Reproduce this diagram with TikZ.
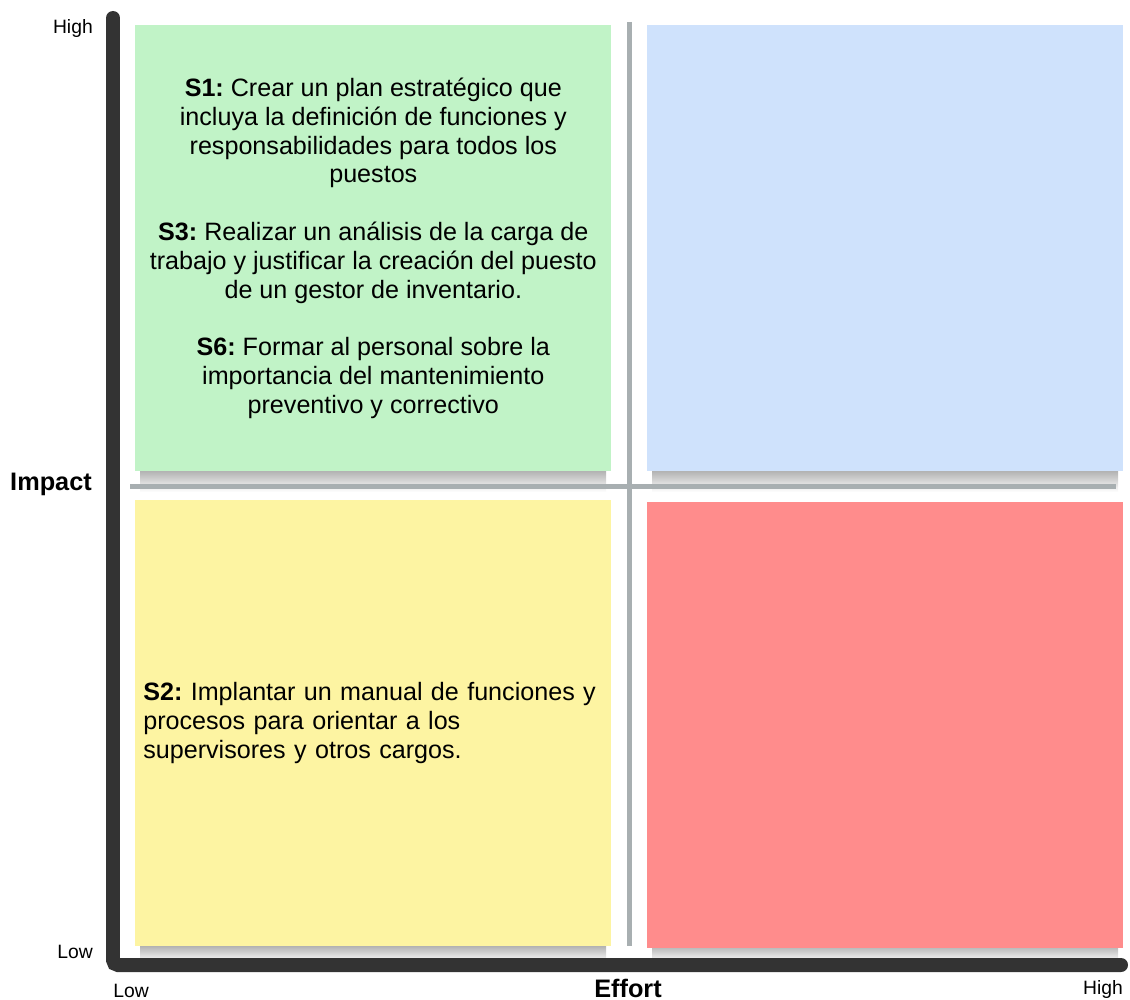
\documentclass[tikz,border=0pt]{standalone}
\usepackage{fontspec}
\setmainfont{Liberation Sans}
\usepackage{xcolor}
\definecolor{quadgreen}{HTML}{C1F3C7}
\definecolor{quadblue}{HTML}{CFE2FC}
\definecolor{quadyellow}{HTML}{FDF4A2}
\definecolor{quadred}{HTML}{FF8C8C}
\definecolor{axisgray}{HTML}{333333}
\definecolor{guidegray}{HTML}{A8AFB1}
\frenchspacing

\begin{document}
\begin{tikzpicture}[x=0.02cm, y=-0.02cm,
    quad/.style = {shape=rectangle, minimum width=9.52cm, minimum height=8.92cm,
      inner xsep=0.16cm, anchor=north west, font=\fontsize{14.3}{16.4}\selectfont},
    dropshade/.style = {top color=black!30, bottom color=white, draw=none},
    guide/.style = {guidegray, line width=0.1cm},
    axis/.style = {axisgray, line width=0.28cm, line cap=round, rounded corners=0.1cm},
    tick/.style = {font=\fontsize{11}{13}\selectfont},
    title/.style = {font=\fontsize{14.4}{17}\selectfont\bfseries}]
  \useasboundingbox (0,0) rectangle (1130,1000);

  \fill[dropshade] (140,471) rectangle (606,492);
  \fill[dropshade] (652,471) rectangle (1118,492);
  \fill[dropshade] (140,946) rectangle (606,962);
  \fill[dropshade] (652,946) rectangle (1118,962);

  \coordinate (gtop) at (629,22);
  \coordinate (gbot) at (629,946);
  \coordinate (gleft) at (130,486);
  \coordinate (gright) at (1116,486);
  \draw[guide] (gtop) -- (gbot);
  \draw[guide] (gleft) -- (gright);

  \node[quad, fill=quadgreen, align=center] (quickwins) at (135,25)
    {\textbf{S1:} Crear un plan estratégico que\\
     incluya la definición de funciones y\\
     responsabilidades para todos los\\
     puestos\\[16.4pt]
     \textbf{S3:} Realizar un análisis de la carga de\\
     trabajo y justificar la creación del puesto\\
     de un gestor de inventario.\\[16.4pt]
     \textbf{S6:} Formar al personal sobre la\\
     importancia del mantenimiento\\
     preventivo y correctivo};
  \node[quad, fill=quadblue] (majorprojects) at (647,25) {};
  \node[quad, fill=quadyellow, align=left, text width=9.2cm] (fillins) at (135,500)
    {\textbf{S2:} Implantar un manual de funciones y\\
     procesos para orientar a los\\
     supervisores y otros cargos.};
  \node[quad, fill=quadred] (thankless) at (647,502) {};

  \coordinate (ytop) at (113,18);
  \coordinate (origin) at (113,965);
  \coordinate (xend) at (1121,965);
  \draw[axis] (ytop) -- (origin) -- (xend);

  \node[tick, anchor=east] (ihigh) at (99,29) {High};
  \node[title] (impact) at (51,484) {Impact};
  \node[tick] (ilow) at (75,952) {Low};
  \node[tick] (elow) at (131,991) {Low};
  \node[title] (effort) at (628,988) {Effort};
  \node[tick] (ehigh) at (1103,989) {High};
\end{tikzpicture}
\end{document}
